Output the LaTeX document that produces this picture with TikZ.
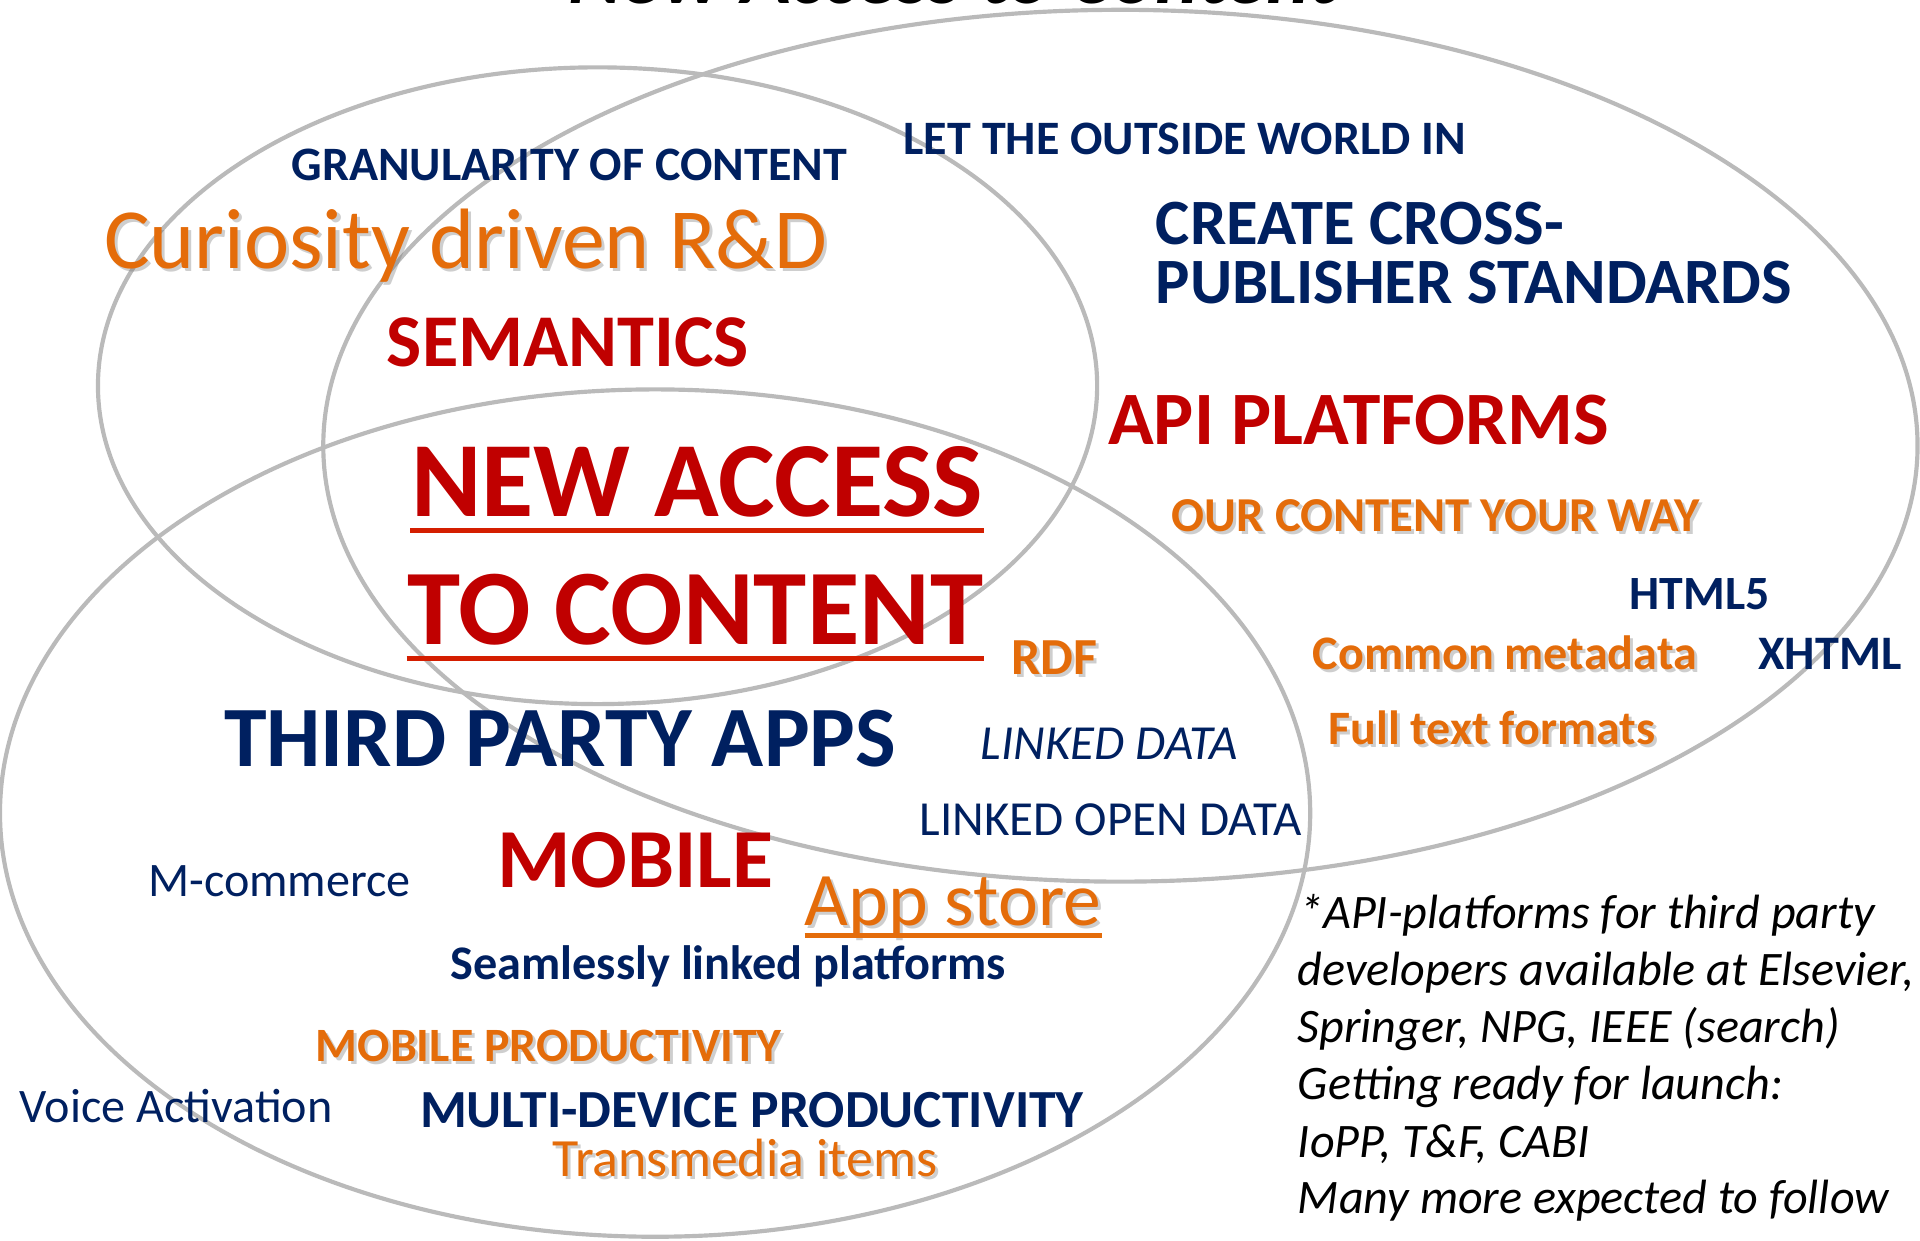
\documentclass[tikz,border=0pt]{standalone}
\usepackage{fontspec}
\setmainfont{Carlito}
\usetikzlibrary{calc}
\definecolor{navy}{HTML}{002060}
\definecolor{dred}{HTML}{C00000}
\definecolor{orng}{HTML}{E46C0A}
\definecolor{ringc}{HTML}{BABABA}
\definecolor{ulred}{HTML}{D41E00}
\newcommand\fs[1]{\fontsize{#1}{#1}\selectfont}
\newcommand\shnode[4]{%
  \node[lbl,#3,shadowc,xshift=2.5pt,yshift=-2.5pt] (#1s) at (#2) {#4};
  \node[lbl,#3] (#1) at (#2) {#4};}
\begin{document}
\begin{tikzpicture}[x=1pt,y=-1pt,
  lbl/.style={inner sep=0pt,outer sep=0pt,anchor=base west},
  ring/.style={draw=ringc,line width=3.4pt},
  shadowc/.style={text=black!55,opacity=0.35},
  bnavy/.style={font=\bfseries\fs{#1},text=navy},
  rnavy/.style={font=\fs{#1},text=navy},
  bred/.style={font=\bfseries\fs{#1},text=dred},
  borng/.style={font=\bfseries\fs{#1},text=orng},
  rorng/.style={font=\fs{#1},text=orng},
  note/.style={lbl,font=\itshape\fs{39.3},text=black}]
\useasboundingbox (0,0) rectangle (1568,1013);
% ellipses
\draw[ring] (488,315) ellipse [x radius=408pt, y radius=260pt];
\draw[ring] (915,364) ellipse [x radius=651pt, y radius=356pt];
\draw[ring] (535,664) ellipse [x radius=535pt, y radius=346pt];
% title (cut off by the top edge)
\node[lbl,font=\bfseries\itshape\fs{67}] (title) at (464,3) {New Access to Content};
% upper left
\node[lbl,bnavy=39.2] (gran) at (238,147) {GRANULARITY OF CONTENT};
\shnode{curio}{85,219}{rorng=70}{Curiosity driven R\&D}
\node[lbl,bred=60.8] (sem) at (316,299) {SEMANTICS};
% right
\node[lbl,bnavy=39.2] (let) at (738,126) {LET THE OUTSIDE WORLD IN};
\node[lbl,bnavy=52.8] (create) at (944,200) {CREATE CROSS-};
\node[lbl,bnavy=52.8] (publ) at (944,248) {PUBLISHER STANDARDS};
\node[lbl,bred=61.6] (api) at (905,363) {API PLATFORMS};
\shnode{our}{957,434}{borng=39.8}{OUR CONTENT YOUR WAY}
\node[lbl,bnavy=39] (html) at (1331,498) {HTML5};
\node[lbl,bnavy=39.3] (xhtml) at (1436,547) {XHTML};
\shnode{meta}{1072,547}{borng=39.3}{Common metadata}
\shnode{full}{1085,608}{borng=39.2}{Full text formats}
% centre
\node[lbl,bred=87.2] (na) at (336,422) {NEW ACCESS};
\node[lbl,bred=87.6] (tc) at (333,526) {TO CONTENT};
\draw[ulred,line width=4pt] ($(na.base west)+(-1,11)$) -- ($(na.base east)+(1,11)$);
\draw[ulred,line width=4pt] ($(tc.base west)+(-1,12)$) -- ($(tc.base east)+(1,12)$);
\shnode{rdf}{826,551}{borng=42.5}{RDF}
\node[lbl,font=\itshape\fs{40},text=navy] (ld) at (801,620) {LINKED DATA};
\node[lbl,rnavy=40] (lod) at (751,682) {LINKED OPEN DATA};
% bottom
\node[lbl,bnavy=70.2] (third) at (183,626) {THIRD PARTY APPS};
\node[lbl,rnavy=39.3] (mcom) at (121,732) {M-commerce};
\node[lbl,bred=68.6] (mob) at (406,725) {MOBILE};
\shnode{app}{657,756}{rorng=61.8}{App store}
\draw[orng,line width=4pt] ($(app.base west)+(0,8)$) -- ($(app.base east)+(1,8)$);
\node[lbl,bnavy=39.4] (seam) at (368,800) {Seamlessly linked platforms};
\shnode{mprod}{258,867}{borng=39.1}{MOBILE PRODUCTIVITY}
\node[lbl,rnavy=39.3] (voice) at (16,917) {Voice Activation};
\node[lbl,bnavy=43.8] (multi) at (343,921) {MULTI-DEVICE PRODUCTIVITY};
\shnode{trans}{451,961}{rorng=44}{Transmedia items}
% note
\node[note] (n1) at (1061,758) {*API-platforms for third party};
\node[note] (n2) at (1060,805) {developers available at Elsevier,};
\node[note] (n3) at (1060,851) {Springer, NPG, IEEE (search)};
\node[note] (n4) at (1060,898) {Getting ready for launch:};
\node[note] (n5) at (1060,945) {IoPP, T\&F, CABI};
\node[note] (n6) at (1060,991) {Many more expected to follow};
\end{tikzpicture}
\end{document}
